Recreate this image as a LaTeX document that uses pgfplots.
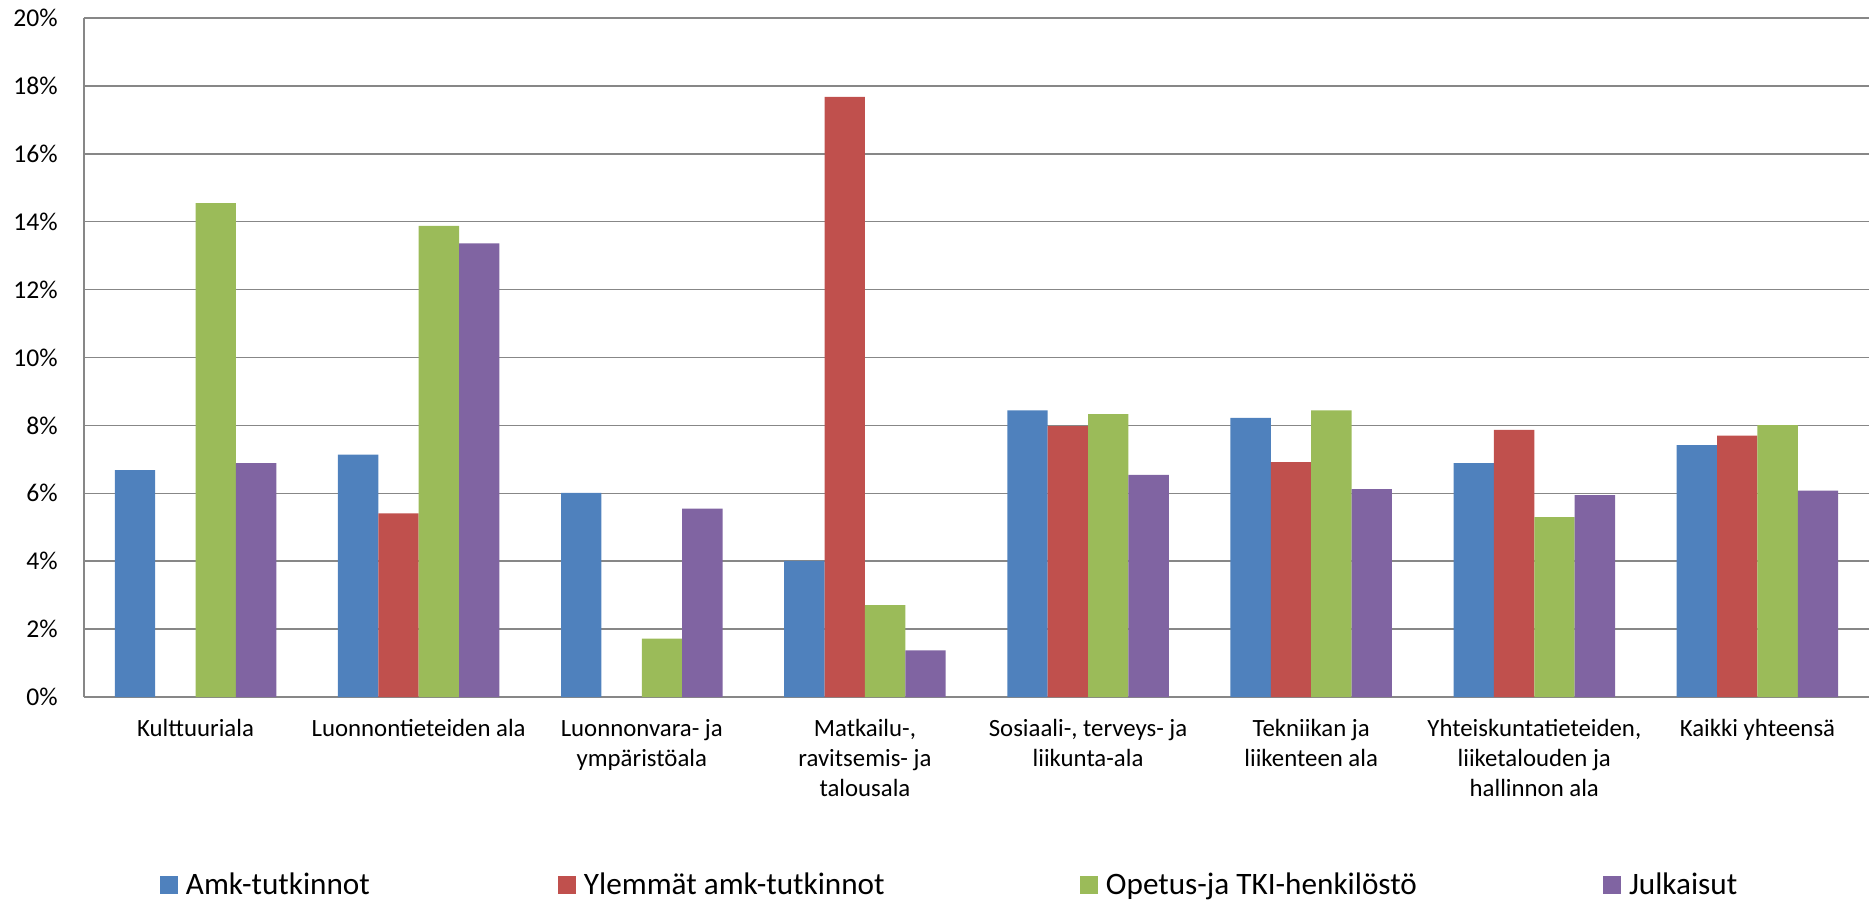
\documentclass[border=0pt]{standalone}
\usepackage{pgfplots}
\pgfplotsset{compat=1.18}
\usepackage{fontspec}
\setmainfont{Carlito}
\definecolor{cblue}{HTML}{4F81BD}
\definecolor{cred}{HTML}{C0504D}
\definecolor{cgreen}{HTML}{9BBB59}
\definecolor{cpurple}{HTML}{8064A2}
\definecolor{gridgray}{HTML}{878787}
\pgfplotsset{
    sqlegend/.style={legend image code/.code={\fill[##1] (0pt,-4.5pt) rectangle (9pt,4.5pt);}}
}
\begin{document}
\begin{tikzpicture}
\path[use as bounding box] (-42pt,-102.5pt) rectangle (895pt,348.5pt);
\begin{axis}[
    scale only axis,
    width=892.5pt, height=339.5pt,
    xmin=-0.5, xmax=7.5, ymin=0, ymax=20,
    axis x line*=bottom, axis y line*=left,
    axis line style={gridgray, line width=0.75pt},
    ymajorgrids, grid style={gridgray, line width=0.75pt},
    major tick length=0pt,
    xtick={0,...,7},
    xticklabels={Kulttuuriala, Luonnontieteiden ala, Luonnonvara- ja\\ympäristöala,
        {Matkailu-,\\ravitsemis- ja\\talousala}, {Sosiaali-, terveys- ja\\liikunta-ala},
        Tekniikan ja\\liikenteen ala, {Yhteiskuntatieteiden,\\liiketalouden ja\\hallinnon ala},
        Kaikki yhteensä},
    xticklabel style={align=center, anchor=north, inner sep=0pt, yshift=-11pt,
        font=\fontsize{12.4}{15}\selectfont},
    ytick={0,2,...,20},
    yticklabels={0\%,2\%,4\%,6\%,8\%,10\%,12\%,14\%,16\%,18\%,20\%},
    yticklabel style={anchor=east, inner sep=0pt, xshift=-13pt,
        font=\fontsize{12.8}{15}\selectfont},
    ybar, bar width=0.181, 
    every axis plot/.append style={draw=none},
    sqlegend,
    legend columns=4,
    legend style={at={(0,0)}, anchor=west, xshift=38pt, yshift=-94pt,
        draw=none, inner sep=0pt, outer sep=0pt,
        nodes={inner sep=0pt},
        font=\fontsize{15.6}{18}\selectfont,
        /tikz/every odd column/.append style={column sep=4pt}},
]
\addplot[fill=cblue, bar shift=-0.2715] coordinates {
    (0,6.68) (1,7.14) (2,6.01) (3,4.01) (4,8.44) (5,8.22) (6,6.89) (7,7.42)};
\addlegendentry{\makebox[186pt][l]{Amk-tutkinnot}}
\addplot[fill=cred, bar shift=-0.0905] coordinates {
    (1,5.41) (3,17.68) (4,7.98) (5,6.92) (6,7.87) (7,7.70)};
\addlegendentry{\makebox[248pt][l]{Ylemmät amk-tutkinnot}}
\addplot[fill=cgreen, bar shift=0.0905] coordinates {
    (0,14.55) (1,13.88) (2,1.72) (3,2.71) (4,8.33) (5,8.44) (6,5.30) (7,8.01)};
\addlegendentry{\makebox[248.5pt][l]{Opetus-ja TKI-henkilöstö}}
\addplot[fill=cpurple, bar shift=0.2715] coordinates {
    (0,6.89) (1,13.36) (2,5.55) (3,1.37) (4,6.54) (5,6.12) (6,5.95) (7,6.08)};
\addlegendentry{Julkaisut}
\end{axis}
\end{tikzpicture}
\end{document}
